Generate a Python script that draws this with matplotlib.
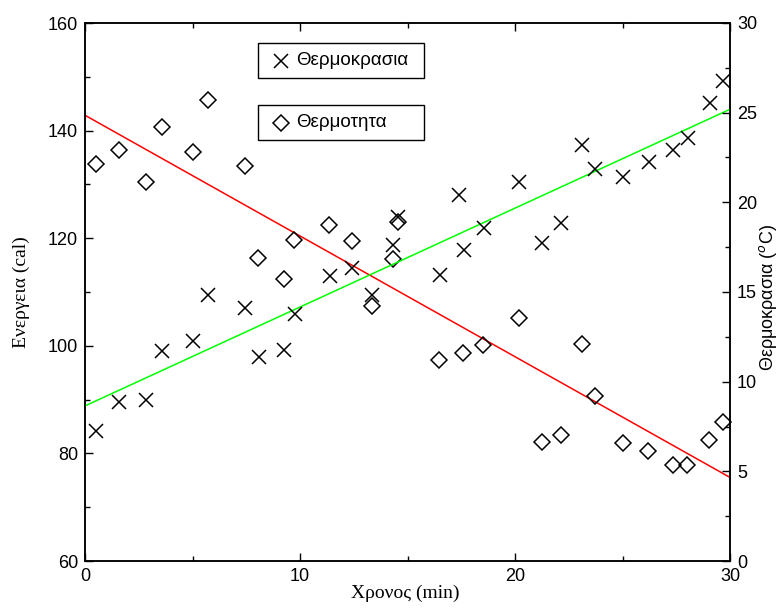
import numpy as np
import matplotlib
matplotlib.use("Agg")
import matplotlib.pyplot as plt
from matplotlib.patches import Rectangle
from matplotlib.lines import Line2D

# temperature (crosses, right axis)
t_temp = [0.50, 1.57, 2.85, 3.58, 5.00, 5.72, 7.43, 8.10, 9.25, 9.76,
          11.39, 12.42, 13.33, 14.33, 14.57, 16.51, 17.39, 17.62, 18.55, 20.20,
          21.27, 22.14, 23.10, 23.72, 25.03, 26.23, 27.36, 28.06, 29.07, 29.69]
temp = [7.25, 8.86, 8.97, 11.72, 12.26, 14.83, 14.12, 11.35, 11.76, 13.77,
        15.89, 16.32, 14.83, 17.62, 19.18, 15.94, 20.41, 17.34, 18.55, 21.15,
        17.71, 18.83, 23.20, 21.84, 21.43, 22.27, 22.92, 23.57, 25.56, 26.79]

# heat (diamonds, left axis)
t_heat = [0.50, 1.57, 2.86, 3.58, 5.00, 5.72, 7.43, 8.05, 9.25, 9.71,
          11.35, 12.40, 13.33, 14.33, 14.57, 16.47, 17.59, 18.52, 20.20, 21.24,
          22.12, 23.10, 23.72, 25.03, 26.20, 27.36, 28.01, 29.04, 29.69]
heat = [133.7, 136.4, 130.5, 140.6, 136.0, 145.7, 133.5, 116.4, 112.5, 119.6,
        122.4, 119.5, 107.4, 116.2, 123.0, 97.3, 98.7, 100.1, 105.1, 82.1,
        83.5, 100.4, 90.6, 82.0, 80.5, 77.8, 77.8, 82.4, 85.9]

serif = ['Liberation Serif', 'DejaVu Serif']
sans = ['Liberation Sans', 'DejaVu Sans']

fig = plt.figure(figsize=(7.81, 6.16), dpi=100)
ax = fig.add_axes([85/781, 1-561/616, 645/781, 538/616])
ax2 = ax.twinx()

# linear fits
xs = np.array([0, 30])
k1 = np.polyfit(t_heat, heat, 1)
k2 = np.polyfit(t_temp, temp, 1)
ax.plot(xs, np.polyval(k1, xs), color='#ff0000', lw=1.1, zorder=1)
ax2.plot(xs, np.polyval(k2, xs), color='#00ff00', lw=1.1, zorder=1)

ax.plot(t_heat, heat, ls='none', marker='D', ms=8, mfc='none', mec='black', mew=1.1, clip_on=False)
ax2.plot(t_temp, temp, ls='none', marker='x', ms=10, mec='black', mew=1.1, clip_on=False)

ax.set_xlim(0, 30)
ax.set_ylim(60, 160)
ax2.set_ylim(0, 30)
ax.set_xticks([0, 10, 20, 30])
ax.set_xticks([5, 15, 25], minor=True)
ax.set_yticks(np.arange(60, 161, 20))
ax.set_yticks(np.arange(70, 160, 20), minor=True)
ax2.set_yticks(np.arange(0, 31, 5))
ax2.set_yticks(np.arange(2.5, 30, 5), minor=True)

ax.tick_params(which='both', direction='in', top=True, right=False, labelsize=13, width=1.0)
ax.tick_params(which='major', length=6, pad=5)
ax.tick_params(which='minor', length=3.5)
ax2.tick_params(which='both', direction='in', labelsize=13, width=1.0)
ax2.tick_params(which='major', length=6, pad=5)
ax2.tick_params(which='minor', length=3.5)
for a in (ax, ax2):
    for lab in a.get_xticklabels() + a.get_yticklabels():
        lab.set_family(sans)
    for s in a.spines.values():
        s.set_linewidth(1.1)

ax.set_xlabel('Χρονος (min)', family=serif, fontsize=14)
ax.xaxis.set_label_coords(0.496, -0.0595)
ax.xaxis.label.set_va('center')
ax.set_ylabel('Ενεργεια (cal)', family=serif, fontsize=14)
ax.yaxis.set_label_coords(-0.099, 0.5)
ax.yaxis.label.set_va('center')
ax2.set_ylabel('Θερμοκρασια (${}^{o}$C)', family=sans, fontsize=13, rotation=90)
ax2.yaxis.set_label_coords(1.059, 0.49)
ax2.yaxis.label.set_va('center')

# legend boxes
entries = [('x', 'Θερμοκρασια', 43), ('D', 'Θερμοτητα', 105)]
for mk, lab, ytop in entries:
    fig.patches.append(Rectangle((258/781, 1-(ytop+35)/616), 166/781, 35/616,
                                 transform=fig.transFigure, fill=False, ec='black', lw=1.0))
    yc = 1-(ytop+17.5)/616
    fig.lines.append(Line2D([281/781], [yc], transform=fig.transFigure, ls='none', marker=mk,
                            ms=10 if mk == 'x' else 8, mfc='none', mec='black', mew=1.1))
    fig.text(296/781, yc, lab, family=sans, fontsize=13.5, va='center', ha='left')

fig.savefig('out.png', dpi=100)
